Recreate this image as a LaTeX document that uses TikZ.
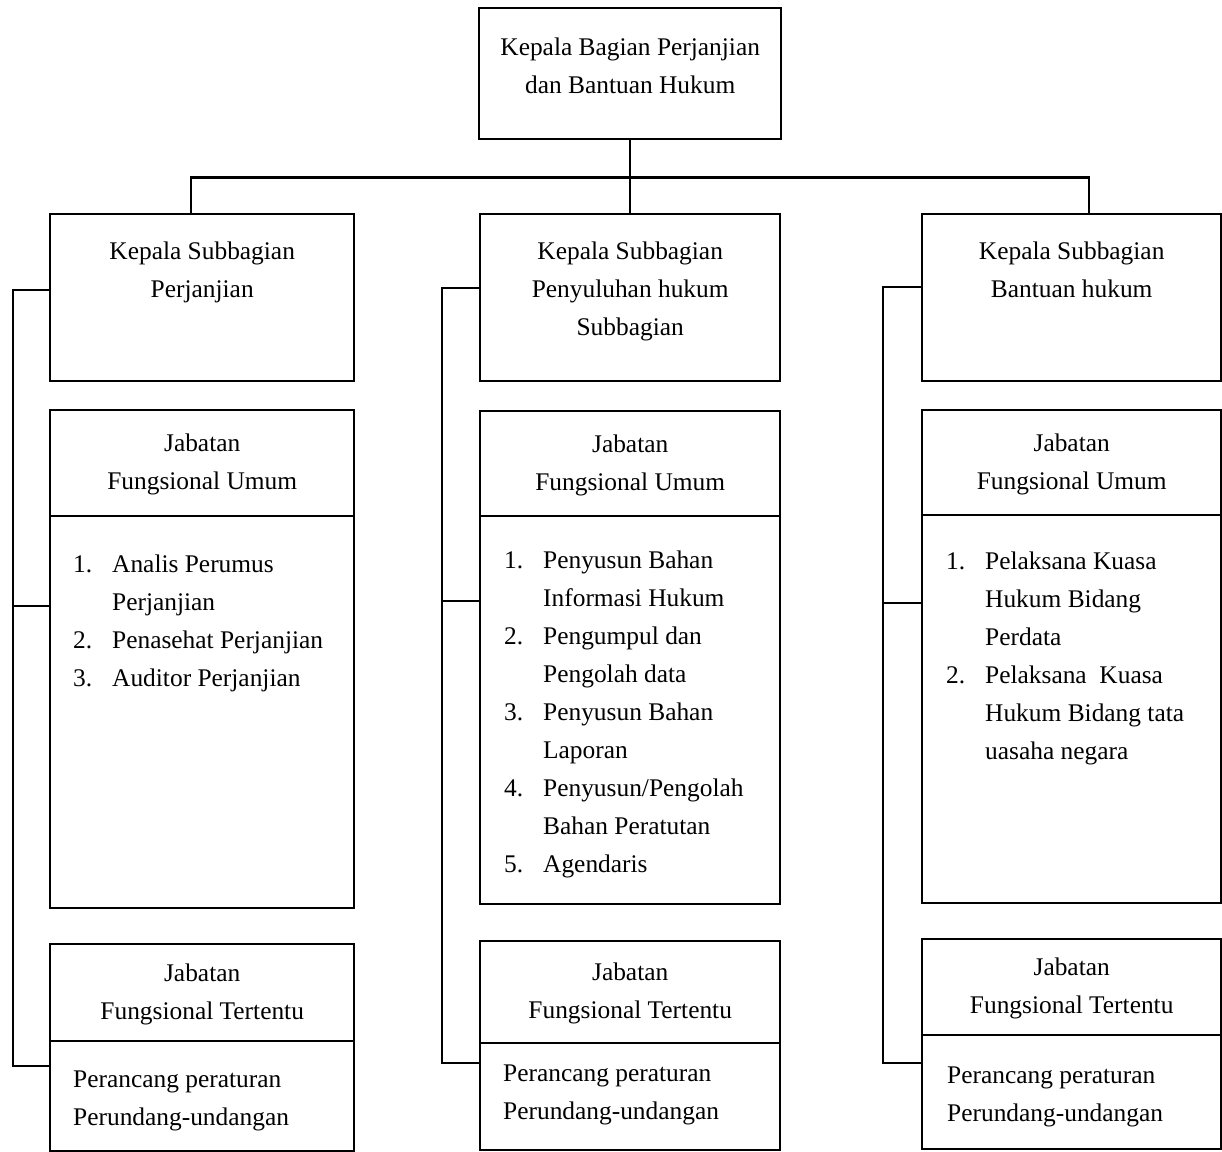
\documentclass[tikz,border=0pt]{standalone}
\usepackage{fontspec}
\setmainfont{Liberation Serif}
\usepackage{tikz}
\usetikzlibrary{positioning}

\newcommand{\baris}[1]{\begin{tabular}{@{}c@{}}#1\end{tabular}}
\newcommand{\kiri}[1]{\begin{tabular}{@{}l@{}}#1\end{tabular}}
\newcommand{\daftar}[1]{\begin{tabular}{@{}p{19.5pt}@{}l@{}}#1\end{tabular}}

\begin{document}
\begin{tikzpicture}[
		    x=0.5pt, y=-0.5pt, line width=1.2pt,
		    every node/.style={inner sep=0pt, font=\fontsize{12.7}{19}\selectfont}
		]
		\tikzset{
		    kotak/.style={draw, anchor=north west},
		    lebar1/.style={minimum width=152pt},
		    lebar2/.style={minimum width=150pt},
		    lebar3/.style={minimum width=149.5pt}
		}
		\useasboundingbox (0,0) rectangle (1222,1152);

		% kepala bagian
		\node[kotak, minimum width=151pt, minimum height=65.5pt] (kb) at (478,7) {};
		\node[below=10.2pt of kb.north] (kbT) {\baris{Kepala Bagian Perjanjian\\dan Bantuan Hukum}};

		% kolom kiri
		\node[kotak, lebar1, minimum height=83.5pt] (ks1) at (49,213) {};
		\node[below=9.2pt of ks1.north] (ks1T) {\baris{Kepala Subbagian\\Perjanjian}};
		\node[kotak, lebar1, minimum height=53pt] (uj1) at (49,409) {\baris{Jabatan\\Fungsional Umum}};
		\node[kotak, lebar1, minimum height=196pt] (ui1) at (49,515) {};
		\node[anchor=north west, below right=14.7pt and 11.5pt of ui1.north west] (ui1T) {\daftar{
		    1. & Analis Perumus\\
		       & Perjanjian\\
		    2. & Penasehat Perjanjian\\
		    3. & Auditor Perjanjian}};
		\node[kotak, lebar1, minimum height=48.5pt] (tj1) at (49,943) {\baris{Jabatan\\Fungsional Tertentu}};
		\node[kotak, lebar1, minimum height=55pt] (ti1) at (49,1040) {};
		\node[below right=9.7pt and 11.5pt of ti1.north west] (ti1T) {\kiri{Perancang peraturan\\Perundang-undangan}};

		% kolom tengah
		\node[kotak, lebar2, minimum height=83.5pt] (ks2) at (479,213) {};
		\node[below=9.2pt of ks2.north] (ks2T) {\baris{Kepala Subbagian\\Penyuluhan hukum\\Subbagian}};
		\node[kotak, lebar2, minimum height=52.5pt] (uj2) at (479,410) {\baris{Jabatan\\Fungsional Umum}};
		\node[kotak, lebar2, minimum height=194pt] (ui2) at (479,515) {};
		\node[below right=12.7pt and 12pt of ui2.north west] (ui2T) {\daftar{
		    1. & Penyusun Bahan\\
		       & Informasi Hukum\\
		    2. & Pengumpul dan\\
		       & Pengolah data\\
		    3. & Penyusun Bahan\\
		       & Laporan\\
		    4. & Penyusun/Pengolah\\
		       & Bahan Peratutan\\
		    5. & Agendaris}};
		\node[kotak, lebar2, minimum height=51pt] (tj2) at (479,940) {\baris{Jabatan\\Fungsional Tertentu}};
		\node[kotak, lebar2, minimum height=53.5pt] (ti2) at (479,1042) {};
		\node[below right=5.7pt and 11.5pt of ti2.north west] (ti2T) {\kiri{Perancang peraturan\\Perundang-undangan}};

		% kolom kanan
		\node[kotak, lebar3, minimum height=83.5pt] (ks3) at (921,213) {};
		\node[below=9.2pt of ks3.north] (ks3T) {\baris{Kepala Subbagian\\Bantuan hukum}};
		\node[kotak, lebar3, minimum height=52.5pt] (uj3) at (921,409) {\baris{Jabatan\\Fungsional Umum}};
		\node[kotak, lebar3, minimum height=194pt] (ui3) at (921,514) {};
		\node[below right=13.7pt and 12pt of ui3.north west] (ui3T) {\daftar{
		    1. & Pelaksana Kuasa\\
		       & Hukum Bidang\\
		       & Perdata\\
		    2. & Pelaksana\ \ Kuasa\\
		       & Hukum Bidang tata\\
		       & uasaha negara}};
		\node[kotak, lebar3, minimum height=48pt] (tj3) at (921,938) {\baris{Jabatan\\Fungsional Tertentu}};
		\node[kotak, lebar3, minimum height=57pt] (ti3) at (921,1034) {};
		\node[below right=10.7pt and 12.5pt of ti3.north west] (ti3T) {\kiri{Perancang peraturan\\Perundang-undangan}};

		% garis ke kepala subbagian
		\draw (kb.south) -- ++(0,37) coordinate (bus);
		\draw ([xshift=-5.5pt]ks1.north) |- (bus) -| ([xshift=8.75pt]ks3.north);
		\draw (bus) -- (ks2.north);

		% garis samping tiap kolom
		\coordinate (s1) at (13,290);
		\coordinate (s2) at (442,288);
		\coordinate (s3) at (883,287);
		\coordinate (u1) at ([yshift=-45.5pt]ui1.north west);
		\coordinate (u2) at ([yshift=-43pt]ui2.north west);
		\coordinate (u3) at ([yshift=-44.5pt]ui3.north west);
		\draw (ks1.west |- s1) -- (s1) |- ([yshift=-13pt]ti1.north west);
		\draw (ks2.west |- s2) -- (s2) |- ([yshift=-10.5pt]ti2.north west);
		\draw (ks3.west |- s3) -- (s3) |- ([yshift=-14.5pt]ti3.north west);
		\draw (u1) -- (s1 |- u1);
		\draw (u2) -- (s2 |- u2);
		\draw (u3) -- (s3 |- u3);
		\end{tikzpicture}
\end{document}
